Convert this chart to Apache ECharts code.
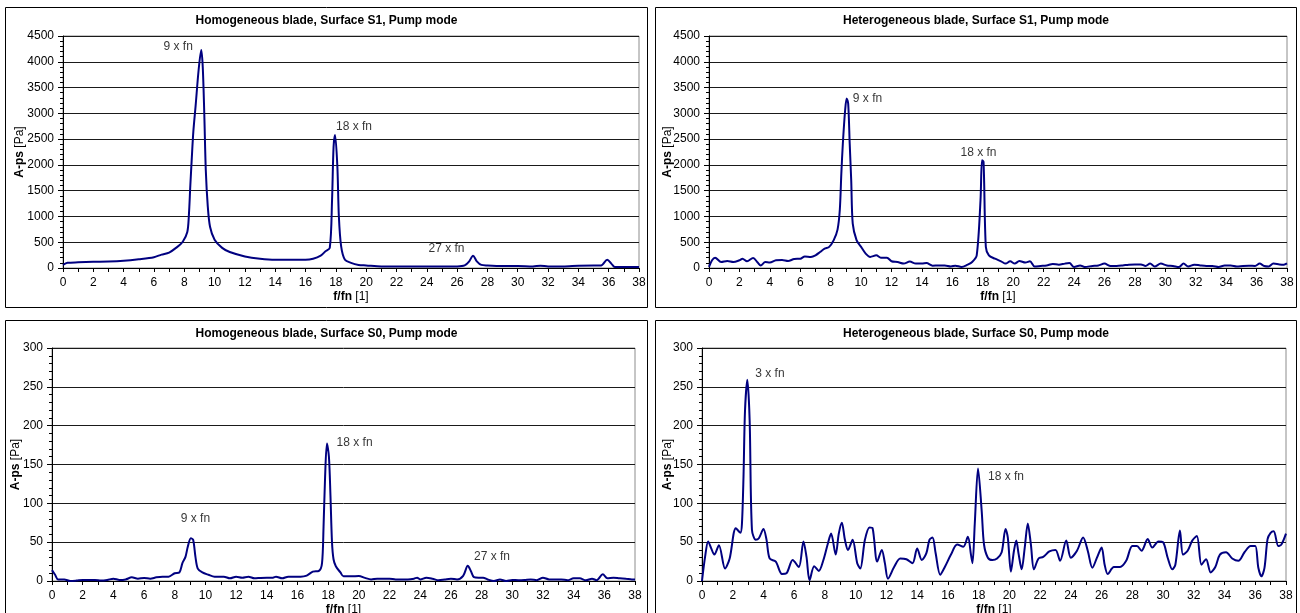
<!DOCTYPE html>
<html><head><meta charset="utf-8">
<script src="https://cdn.jsdelivr.net/npm/echarts@6/dist/echarts.min.js"></script>
<style>html,body{margin:0;padding:0;background:#fff}#c{width:1300px;height:613px}</style>
</head><body><div id="c"></div>
<script>
// ---- Data (x = f/fn, y = A-ps [Pa]) ----
const titleTexts = [
  'Homogeneous blade, Surface S1, Pump mode',
  'Heterogeneous blade, Surface S1, Pump mode',
  'Homogeneous blade, Surface S0, Pump mode',
  'Heterogeneous blade, Surface S0, Pump mode'
];
const homS1 = [[0,60],[0.3,100],[1,110],[2,120],[3,125],[4,140],[5,170],[6,210],[6.5,260],[7,300],[7.5,400],[7.9,510],[8.2,700],[8.3,1000],[8.4,1600],[8.5,2150],[8.6,2650],[8.75,3150],[8.95,3850],[9.12,4230],[9.22,3900],[9.32,3000],[9.42,1900],[9.55,1200],[9.7,800],[10,550],[10.5,390],[11,310],[12,225],[13,180],[14,160],[15,160],[16,160],[16.5,180],[17,240],[17.3,320],[17.6,390],[17.75,1320],[17.85,2350],[17.95,2580],[18.1,1970],[18.2,1000],[18.35,420],[18.6,160],[19,100],[19.5,60],[20,50],[21,30],[22,28],[23,27],[24,27],[25,27],[26,30],[26.5,50],[26.8,130],[27.05,240],[27.3,130],[27.6,60],[28,50],[29,40],[30,40],[31,30],[31.5,45],[32,30],[33,30],[34,45],[35,50],[35.5,50],[35.9,160],[36.2,75],[36.4,20],[37,20],[38,20]];
const hetS1 = [[0,20],[0.2,150],[0.4,200],[0.8,115],[1.2,135],[1.6,115],[2,150],[2.2,180],[2.5,130],[2.9,195],[3.2,105],[3.4,50],[3.7,115],[4,105],[4.4,150],[4.8,155],[5.2,135],[5.6,175],[6,180],[6.3,225],[6.7,215],[7,245],[7.3,310],[7.6,375],[7.9,410],[8.2,540],[8.45,745],[8.6,1130],[8.7,1830],[8.8,2415],[8.95,3060],[9.05,3290],[9.15,3190],[9.25,2415],[9.35,1700],[9.45,860],[9.7,540],[10,410],[10.3,280],[10.6,215],[11,245],[11.3,200],[11.7,200],[12,130],[12.4,115],[12.8,85],[13.2,125],[13.6,85],[14,85],[14.3,95],[14.7,45],[15.1,50],[15.5,50],[15.9,30],[16.2,45],[16.6,20],[17,65],[17.3,115],[17.6,245],[17.85,1315],[17.95,2090],[18.05,2060],[18.2,410],[18.4,245],[18.8,180],[19.2,130],[19.5,85],[19.8,130],[20.1,85],[20.4,135],[20.8,105],[21.1,130],[21.4,30],[21.8,40],[22.2,50],[22.6,80],[23,65],[23.4,85],[23.7,95],[24,20],[24.4,50],[24.7,20],[25.2,40],[25.6,50],[26,85],[26.4,40],[26.8,40],[27.2,50],[27.6,65],[28,70],[28.4,70],[28.7,40],[29,85],[29.3,30],[29.7,85],[30.1,50],[30.5,40],[30.9,20],[31.2,85],[31.5,30],[31.9,65],[32.3,50],[32.7,40],[33.1,40],[33.5,20],[33.9,50],[34.3,50],[34.7,30],[35.1,40],[35.5,45],[35.9,40],[36.2,85],[36.5,40],[36.8,30],[37.1,85],[37.5,70],[37.8,65],[38,90]];
const homS0 = [[0,14],[0.2,8],[0.4,2],[0.8,2],[1.2,0],[1.6,0.5],[2,1.3],[2.4,1.3],[2.8,1.3],[3.2,0.5],[3.6,1.3],[4,3],[4.4,1.3],[4.8,2],[5.2,4.7],[5.6,3],[6,4],[6.4,3],[6.8,4.7],[7.2,5.6],[7.6,5.6],[8,10],[8.3,11],[8.5,23],[8.7,31],[8.85,44],[9.05,55],[9.2,53],[9.35,31],[9.5,16],[9.8,11],[10.2,8],[10.6,5.6],[11.2,5.6],[11.6,3.4],[12,5.6],[12.4,4.3],[12.8,5.6],[13.2,3.4],[13.6,4],[14,4.3],[14.4,4.3],[14.6,5.6],[15,3.4],[15.4,5.6],[15.8,5.6],[16.2,5.6],[16.6,7],[17,12],[17.4,13],[17.6,23],[17.7,70],[17.8,134],[17.92,177],[18.05,160],[18.15,110],[18.25,50],[18.35,28],[18.5,19],[18.8,11],[19,6],[19.5,6],[20,6.5],[20.4,4],[20.8,2],[21.2,3],[21.6,3],[22,3],[22.4,2],[22.8,2],[23.2,2],[23.6,3],[23.8,4.3],[24,2],[24.4,4.3],[24.8,3],[25.2,1],[25.6,2],[26,3],[26.4,2],[26.8,6.5],[27.1,19.5],[27.3,13],[27.5,5],[27.8,4.3],[28.1,4.3],[28.4,2],[28.8,0],[29.2,2],[29.6,0],[30,1.3],[30.4,1],[30.8,1.3],[31.2,2],[31.6,1],[32,4.3],[32.4,2],[32.8,2],[33.2,2],[33.6,1],[34,3.4],[34.4,3.4],[34.8,1],[35.2,3],[35.5,1],[35.9,8.6],[36.2,3.4],[36.6,4.3],[37,3.4],[37.4,3],[37.8,2],[38,2]];
const hetS0 = [[0,0],[0.2,31],[0.4,51],[0.6,42],[0.8,34],[1.1,46],[1.5,16],[1.8,29],[2.2,68],[2.5,62],[2.6,74],[2.7,134],[2.8,220],[2.95,259],[3.1,207],[3.25,66],[3.5,53],[3.7,55],[4,67],[4.2,53],[4.4,29],[4.8,25],[5.2,9],[5.5,10],[5.9,27],[6.3,18],[6.6,51],[6.8,31],[7,1],[7.3,19],[7.6,13],[7.9,27],[8.2,49],[8.4,61],[8.7,34],[8.9,61],[9.1,75],[9.3,53],[9.5,40],[9.8,53],[10.1,23],[10.3,16],[10.6,53],[10.9,69],[11.1,68],[11.4,25],[11.7,40],[11.9,23],[12.1,3],[12.5,18],[12.9,29],[13.3,28],[13.7,23],[14,42],[14.3,27],[14.6,36],[14.8,53],[15,56],[15.2,36],[15.5,8],[15.8,18],[16.2,34],[16.6,47],[17,44],[17.3,57],[17.5,34],[17.6,23],[17.75,74],[17.96,145],[18.2,90],[18.35,47],[18.6,30],[18.9,27],[19.2,29],[19.5,37],[19.75,67],[19.9,56],[20.1,12],[20.3,39],[20.45,52],[20.6,35],[20.8,15],[21,43],[21.2,74],[21.4,47],[21.6,15],[21.9,29],[22.2,31],[22.6,38],[23,40],[23.3,26],[23.7,52],[24,30],[24.4,39],[24.8,56],[25.1,39],[25.4,17],[25.7,30],[26,43],[26.2,21],[26.4,9],[26.8,18],[27.2,18],[27.6,26],[28,45],[28.3,45],[28.6,39],[29,54],[29.3,43],[29.7,51],[30,50],[30.3,30],[30.6,15],[30.8,21],[31.1,65],[31.3,34],[31.6,39],[31.9,52],[32.2,58],[32.5,21],[32.8,28],[33.1,11],[33.4,18],[33.7,34],[34.1,37],[34.5,29],[34.9,26],[35.3,37],[35.7,45],[36,45],[36.2,17],[36.4,6],[36.6,17],[36.8,54],[37,62],[37.2,64],[37.5,45],[37.7,47],[38,61]];
const notesHomS1 = [[7.6,4290,'9 x fn'],[19.2,2735,'18 x fn'],[25.3,368,'27 x fn']];
const notesHetS1 = [[10.42,3278,'9 x fn'],[17.72,2230,'18 x fn']];
const notesHomS0 = [[9.35,80,'9 x fn'],[19.72,178,'18 x fn'],[28.68,31,'27 x fn']];
const notesHetS0 = [[4.42,267,'3 x fn'],[19.78,134,'18 x fn']];
const yMaxTop = 4500, yStepTop = 500, yMaxBottom = 300, yStepBottom = 50;
const xMax = 38, xStep = 2;

const FONT = 'Liberation Sans, Arial, sans-serif';
const panels = [
  {data: homS1, notes: notesHomS1, grid:{left:63, top:36, width:576, height:232}, frame:[5.5,7.5,642,300], ymax:yMaxTop, ystep:yStepTop, nameGap:37, xNameGap:23},
  {data: hetS1, notes: notesHetS1, grid:{left:709, top:36, width:578, height:232}, frame:[655.5,7.5,641,300], ymax:yMaxTop, ystep:yStepTop, nameGap:35, xNameGap:23},
  {data: homS0, notes: notesHomS0, grid:{left:52, top:348, width:583, height:233}, frame:[5.5,320.5,642,320], ymax:yMaxBottom, ystep:yStepBottom, nameGap:30, xNameGap:23},
  {data: hetS0, notes: notesHetS0, grid:{left:702, top:348, width:584, height:233}, frame:[655.5,320.5,641,320], ymax:yMaxBottom, ystep:yStepBottom, nameGap:28, xNameGap:23}
];

const option = {
  animation:false,
  backgroundColor:'#fff',
  title: panels.map((p,i)=>({
    text: titleTexts[i], left: p.frame[0] + p.frame[2]/2, top: p.frame[1] + 7.5, textAlign:'center', padding:0,
    textStyle:{fontSize:12, fontWeight:'bold', fontFamily:FONT, color:'#000'}
  })),
  grid: panels.map(p=>Object.assign({show:true, borderColor:'#8c8c8c', borderWidth:1, backgroundColor:'#fff', outerBoundsMode:'none', containLabel:false}, p.grid)),
  xAxis: panels.map((p,i)=>({
    gridIndex:i, type:'value', min:0, max:xMax, interval:xStep,
    axisLine:{show:true, onZero:false, lineStyle:{color:'#000', width:1}},
    axisTick:{show:true, length:4, lineStyle:{color:'#000'}},
    minorTick:{show:true, splitNumber:2, length:4, lineStyle:{color:'#000'}},
    splitLine:{show:false},
    axisLabel:{color:'#000', fontSize:12, fontFamily:FONT, margin:9},
    name:'{b|f/fn} [1]', nameLocation:'middle', nameGap:p.xNameGap, nameMoveOverlap:false,
    nameTextStyle:{color:'#000', fontSize:12, fontFamily:FONT, rich:{b:{fontWeight:'bold', fontSize:12, fontFamily:FONT, color:'#000'}}}
  })),
  yAxis: panels.map((p,i)=>({
    gridIndex:i, type:'value', min:0, max:p.ymax, interval:p.ystep,
    axisLine:{show:true, lineStyle:{color:'#000', width:1}},
    axisTick:{show:true, length:5, lineStyle:{color:'#000'}},
    minorTick:{show:true, splitNumber:5, length:3, lineStyle:{color:'#000'}},
    splitLine:{show:true, lineStyle:{color:'#1a1a1a', width:1}},
    axisLabel:{color:'#000', fontSize:12, fontFamily:FONT, margin:9, formatter:(v)=>String(v)},
    name:'{b|A-ps} [Pa]', nameLocation:'middle', nameGap:p.nameGap, nameMoveOverlap:false,
    nameTextStyle:{color:'#000', fontSize:12, fontFamily:FONT, rich:{b:{fontWeight:'bold', fontSize:12, fontFamily:FONT, color:'#000'}}}
  })),
  series: [].concat(
    panels.map((p,i)=>({
      type:'line', xAxisIndex:i, yAxisIndex:i, data:p.data, showSymbol:false, smooth:0.3,
      lineStyle:{color:'#000080', width:2}, itemStyle:{color:'#000080'}, z:3
    })),
    panels.map((p,i)=>({
      type:'scatter', xAxisIndex:i, yAxisIndex:i, symbolSize:1, itemStyle:{color:'rgba(0,0,0,0)'}, silent:true,
      data:p.notes.map(n=>({value:[n[0],n[1]], name:n[2]})),
      label:{show:true, position:'inside', formatter:(q)=>q.name, color:'#000', fontSize:12, fontFamily:FONT}, z:4
    }))
  ),
  graphic: panels.map(p=>({
    type:'rect', silent:true, z:-1,
    shape:{x:p.frame[0], y:p.frame[1], width:p.frame[2], height:p.frame[3]},
    style:{fill:'none', stroke:'#000', lineWidth:1}
  }))
};
const chart = echarts.init(document.getElementById('c'), null, {renderer:'canvas'});
chart.setOption(option);
</script>
</body></html>
